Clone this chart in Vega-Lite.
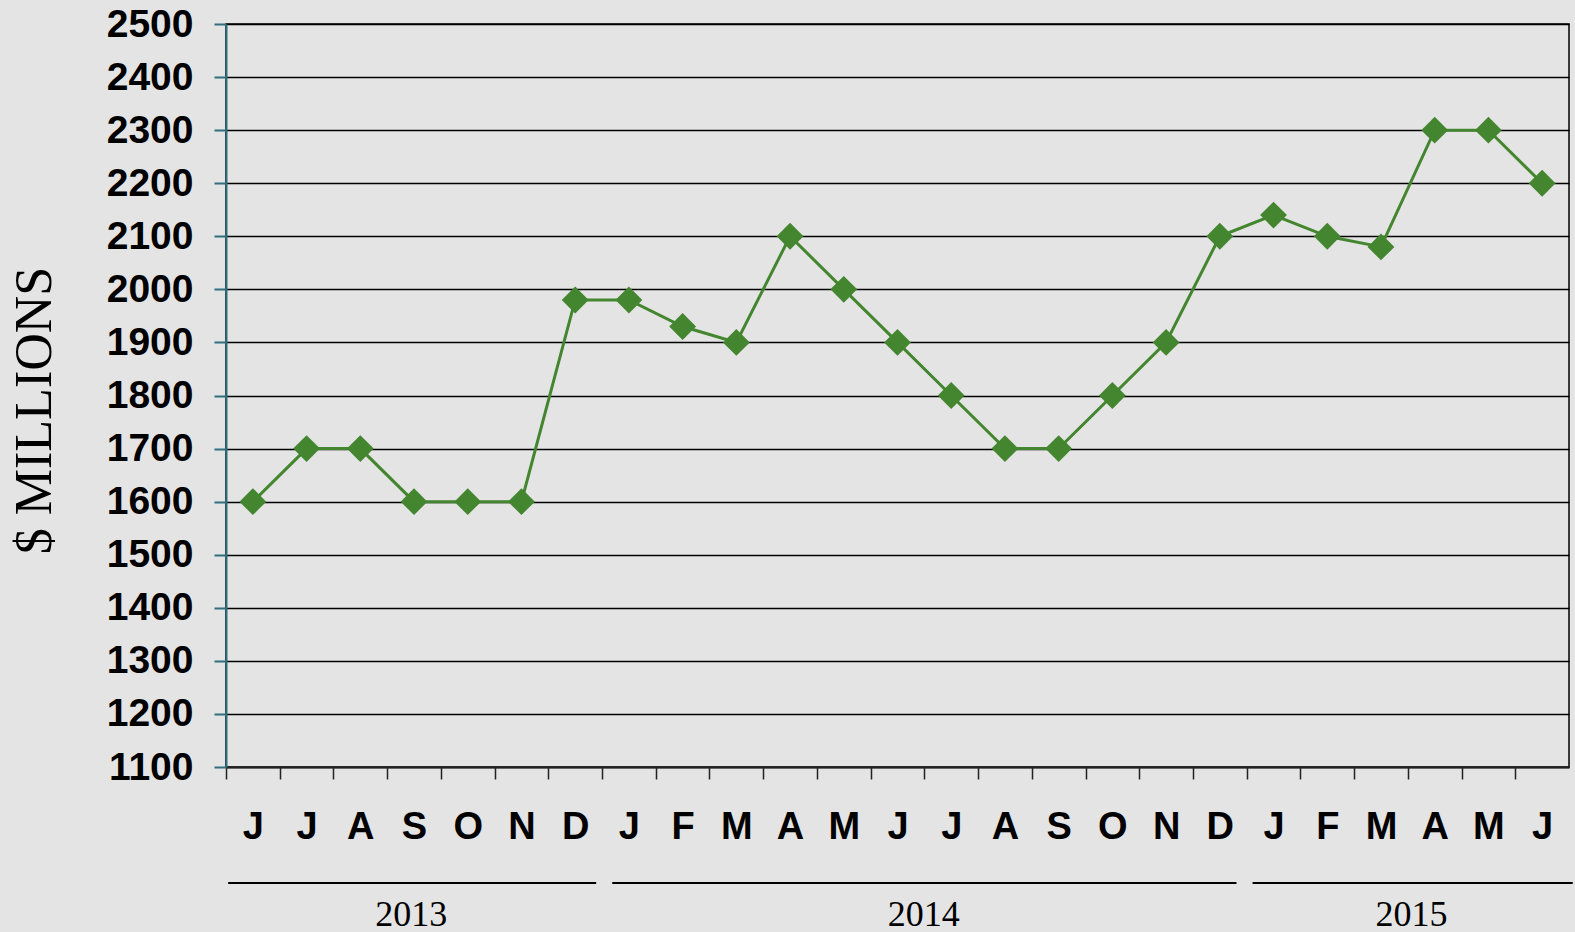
{
  "$schema": "https://vega.github.io/schema/vega-lite/v6.json",
  "background": "#e4e4e4",
  "padding": {"left": 7, "top": 4, "right": 5, "bottom": 0},
  "config": {"view": {"stroke": null}, "font": "Liberation Sans"},
  "spacing": 35,
  "vconcat": [
    {
      "width": 1343,
      "height": 743,
      "view": {"stroke": "black", "strokeWidth": 1.5},
      "data": {"values": [
        {"month": "Jun 2013", "value": 1600},
        {"month": "Jul 2013", "value": 1700},
        {"month": "Aug 2013", "value": 1700},
        {"month": "Sep 2013", "value": 1600},
        {"month": "Oct 2013", "value": 1600},
        {"month": "Nov 2013", "value": 1600},
        {"month": "Dec 2013", "value": 1980},
        {"month": "Jan 2014", "value": 1980},
        {"month": "Feb 2014", "value": 1930},
        {"month": "Mar 2014", "value": 1900},
        {"month": "Apr 2014", "value": 2100},
        {"month": "May 2014", "value": 2000},
        {"month": "Jun 2014", "value": 1900},
        {"month": "Jul 2014", "value": 1800},
        {"month": "Aug 2014", "value": 1700},
        {"month": "Sep 2014", "value": 1700},
        {"month": "Oct 2014", "value": 1800},
        {"month": "Nov 2014", "value": 1900},
        {"month": "Dec 2014", "value": 2100},
        {"month": "Jan 2015", "value": 2140},
        {"month": "Feb 2015", "value": 2100},
        {"month": "Mar 2015", "value": 2080},
        {"month": "Apr 2015", "value": 2300},
        {"month": "May 2015", "value": 2300},
        {"month": "Jun 2015", "value": 2200}
      ]},
      "encoding": {
        "x": {
          "field": "month", "type": "ordinal", "sort": null,
          "scale": {"type": "band", "paddingInner": 0, "paddingOuter": 0},
          "axis": {
            "title": null, "grid": false, "labelAngle": 0,
            "labelExpr": "slice(datum.value, 0, 1)",
            "domainColor": "#222222", "domainWidth": 2,
            "tickColor": "#222222", "tickWidth": 1.5, "tickSize": 12,
            "tickOffset": -26.86, "labelOffset": 26.86,
            "labelFontSize": 38, "labelFontWeight": "bold", "labelColor": "black",
            "labelPadding": 29, "labelBaseline": "top"
          }
        },
        "y": {
          "field": "value", "type": "quantitative",
          "scale": {"domain": [1100, 2500], "nice": false, "zero": false},
          "axis": {
            "values": [1100, 1200, 1300, 1400, 1500, 1600, 1700, 1800, 1900, 2000, 2100, 2200, 2300, 2400, 2500],
            "format": "d",
            "grid": true, "gridColor": "black", "gridWidth": 1.5, "gridOpacity": 1,
            "domainColor": "#2f6f7f", "domainWidth": 2,
            "tickColor": "#2f6f7f", "tickWidth": 2, "tickSize": 12,
            "labelFontSize": 39, "labelFontWeight": "bold", "labelColor": "black", "labelPadding": 21,
            "title": "$ MILLIONS", "titleFont": "Liberation Serif", "titleFontSize": 52,
            "titleFontWeight": "normal", "titleColor": "black",
            "titleAngle": -90, "titleX": -192, "titleY": 386, "titleBaseline": "middle", "titleAlign": "center"
          }
        }
      },
      "layer": [
        {"mark": {"type": "line", "color": "#43862f", "strokeWidth": 3}},
        {"mark": {"type": "point", "shape": "diamond", "filled": true, "size": 720, "color": "#43862f", "opacity": 1}}
      ]
    },
    {
      "width": 1343,
      "height": 2,
      "data": {"values": [
        {"year": "2013", "start": 0.04, "end": 6.89},
        {"year": "2014", "start": 7.19, "end": 18.81},
        {"year": "2015", "start": 19.11, "end": 25.07}
      ]},
      "mark": {"type": "rule", "color": "black", "strokeWidth": 2},
      "encoding": {
        "x": {
          "field": "start", "type": "quantitative",
          "scale": {"domain": [0, 25], "nice": false, "zero": false},
          "axis": {
            "title": null, "grid": false, "domain": false, "ticks": false,
            "values": [3.44, 12.98, 22.06],
            "labelExpr": "datum.value < 8 ? '2013' : (datum.value < 19 ? '2014' : '2015')",
            "labelFont": "Liberation Serif", "labelFontSize": 36, "labelFontWeight": "normal",
            "labelColor": "black", "labelPadding": 13, "labelFlush": false, "labelBaseline": "top"
          }
        },
        "x2": {"field": "end"}
      }
    }
  ]
}
